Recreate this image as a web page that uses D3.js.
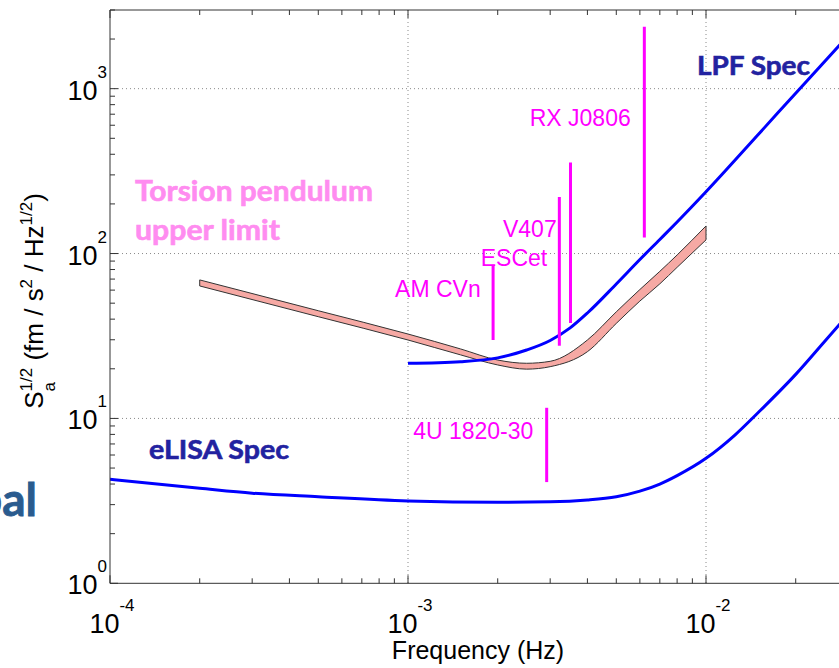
<!DOCTYPE html>
<html>
<head>
<meta charset="utf-8">
<script src="https://cdn.jsdelivr.net/npm/d3@7"></script>
<style>
	body { margin: 0; background: #fff; }
	svg { display: block; font-family: "Liberation Sans", Arial, sans-serif; }
</style>
</head>
<body>
<svg id="chart"></svg>
<script>
// LPF requirement curve
const lpfFreq = [1e-3, 1.5e-3, 2e-3, 2.5e-3, 3e-3, 3.5e-3, 4e-3, 5e-3, 6e-3, 7e-3, 8e-3, 1e-2, 1.5e-2, 2e-2, 3e-2];
const lpfSpec = [21.6, 22.1, 23.3, 26.0, 29.7, 35.4, 43.6, 65.4, 92.0, 121.7, 155.4, 237, 529, 939, 2099];

// eLISA requirement curve
const elisaFreq = [1e-4, 2e-4, 3e-4, 5e-4, 1e-3, 2e-3, 3e-3, 4e-3, 5e-3, 6e-3, 7e-3, 8e-3, 1e-2, 1.25e-2, 1.5e-2, 2e-2, 2.5e-2, 3e-2];
const elisaSpec = [4.27, 3.77, 3.52, 3.35, 3.16, 3.1, 3.12, 3.2, 3.35, 3.62, 4.0, 4.5, 5.73, 7.93, 10.9, 18.5, 29.3, 42.7];

// torsion pendulum upper limit band
const torsionFreq = [2e-4, 5e-4, 1e-3, 1.5e-3, 2e-3, 2.5e-3, 3e-3, 4e-3, 5e-3, 6e-3, 7e-3, 8e-3, 1e-2];
const torsionUpper = [69.2, 45.0, 32.5, 26.4, 22.6, 21.6, 22.2, 29.9, 44.3, 60.5, 78.0, 98, 147];
const torsionLower = [63.6, 41.4, 29.9, 24.3, 21.1, 19.9, 20.6, 25.4, 37.7, 51.5, 65.5, 82.5, 121];

// binary sources (vertical bars) and where their names sit
const sourceNames = ["AM CVn", "V407", "ESCet", "RX J0806", "4U 1820-30"];
const sourceFreq = [1.93e-3, 3.22e-3, 3.51e-3, 6.21e-3, 2.92e-3];
const sourceHigh = [85.5, 220, 356, 2377, 11.6];
const sourceLow = [29.9, 27.6, 37.9, 125, 4.11];
const labelFreq = [1.754e-3, 3.155e-3, 2.933e-3, 5.59e-3, 2.634e-3];
const labelValue = [54.5, 125.5, 84.4, 594, 7.47];

// axis ticks (10^-1 sits beyond the visible area)
const xMajor = [1e-4, 1e-3, 1e-2];
const xExp = ["-4", "-3", "-2"];
const yMajor = [1, 10, 100, 1000];
const yExp = ["0", "1", "2", "3"];

const width = 839, height = 668;
const margin = { top: 10, left: 110 };

const svg = d3.select("#chart").attr("width", width).attr("height", height);

const xScale = d3.scaleLog().domain([1e-4, 1e-1]).range([110, 1004]);
const yScale = d3.scaleLog().domain([1, 3000]).range([583.3, 10]);

const plotRight = 1004, plotBottom = 583.3;

svg.append("clipPath").attr("id", "clip")
	.append("rect")
	.attr("x", margin.left).attr("y", margin.top)
	.attr("width", plotRight - margin.left).attr("height", plotBottom - margin.top);

// minor tick positions
let minor = [];
[1e-4, 1e-3, 1e-2].forEach(d => { for (let m = 2; m <= 9; m++) minor.push(d * m); });
let yMinor = [];
[1, 10, 100, 1000].forEach(d => { for (let m = 2; m <= 9; m++) if (d * m <= 3000) yMinor.push(d * m); });

// grid (dotted, decades only)
const grid = svg.append("g").attr("class", "grid");
grid.selectAll(".vgrid")
	.data(xMajor.slice(1))
	.join("line")
	.attr("x1", d => xScale(d)).attr("x2", d => xScale(d))
	.attr("y1", margin.top).attr("y2", plotBottom)
	.attr("stroke", "#8a8a8a").attr("stroke-width", 1).attr("stroke-dasharray", "1,3");
grid.selectAll(".hgrid")
	.data(yMajor.slice(1))
	.join("line")
	.attr("x1", margin.left).attr("x2", plotRight)
	.attr("y1", d => yScale(d)).attr("y2", d => yScale(d))
	.attr("stroke", "#8a8a8a").attr("stroke-width", 1).attr("stroke-dasharray", "1,3");

const chart = svg.append("g").attr("clip-path", "url(#clip)");

// torsion pendulum band
const band = torsionFreq.map((f, i) => ({ f: f, hi: torsionUpper[i], lo: torsionLower[i] }));
chart.append("path")
	.datum(band)
	.attr("fill", "#f6a9a4")
	.attr("stroke", "#333")
	.attr("stroke-width", 1)
	.attr("d", d3.area()
		.x(d => xScale(d.f))
		.y0(d => yScale(d.lo))
		.y1(d => yScale(d.hi))
		.curve(d3.curveMonotoneX));

const line = d3.line()
	.x(d => xScale(d[0]))
	.y(d => yScale(d[1]))
	.curve(d3.curveMonotoneX);

chart.append("path")
	.datum(lpfFreq.map((f, i) => [f, lpfSpec[i]]))
	.attr("fill", "none").attr("stroke", "#0000ff").attr("stroke-width", 3)
	.attr("d", line);

chart.append("path")
	.datum(elisaFreq.map((f, i) => [f, elisaSpec[i]]))
	.attr("fill", "none").attr("stroke", "#0000ff").attr("stroke-width", 3)
	.attr("d", line);

// sources
const sources = sourceNames.map((n, i) => ({
	name: n, f: sourceFreq[i], hi: sourceHigh[i], lo: sourceLow[i], lf: labelFreq[i], lv: labelValue[i]
}));

chart.selectAll(".source")
	.data(sources)
	.join("line")
	.attr("class", "source")
	.attr("x1", d => xScale(d.f)).attr("x2", d => xScale(d.f))
	.attr("y1", d => yScale(d.hi)).attr("y2", d => yScale(d.lo))
	.attr("stroke", "#ff00ff").attr("stroke-width", 3);

svg.selectAll(".source-label")
	.data(sources)
	.join("text")
	.attr("class", "source-label")
	.attr("x", d => xScale(d.lf))
	.attr("y", d => yScale(d.lv))
	.attr("text-anchor", "end")
	.style("font-size", "23px")
	.attr("fill", "#ff00ff")
	.text(d => d.name);

// axes: frame lines and inward ticks
const axisColor = "#333";
const frame = svg.append("g").attr("class", "frame");
frame.append("line").attr("x1", margin.left).attr("x2", margin.left).attr("y1", margin.top).attr("y2", plotBottom)
	.attr("stroke", axisColor).attr("stroke-width", 1);
frame.append("line").attr("x1", margin.left).attr("x2", plotRight).attr("y1", plotBottom).attr("y2", plotBottom)
	.attr("stroke", axisColor).attr("stroke-width", 1);
frame.append("line").attr("x1", margin.left).attr("x2", plotRight).attr("y1", margin.top).attr("y2", margin.top)
	.attr("stroke", axisColor).attr("stroke-width", 1);

const xTicks = xMajor.map(d => ({ v: d, len: 8 })).concat(minor.map(d => ({ v: d, len: 5 })));
frame.selectAll(".xtick-b")
	.data(xTicks)
	.join("line")
	.attr("x1", d => xScale(d.v)).attr("x2", d => xScale(d.v))
	.attr("y1", plotBottom).attr("y2", d => plotBottom - d.len)
	.attr("stroke", axisColor);
frame.selectAll(".xtick-t")
	.data(xTicks)
	.join("line")
	.attr("x1", d => xScale(d.v)).attr("x2", d => xScale(d.v))
	.attr("y1", margin.top).attr("y2", d => margin.top + d.len)
	.attr("stroke", axisColor);

const yTicks = yMajor.map(d => ({ v: d, len: 8 })).concat(yMinor.map(d => ({ v: d, len: 5 })));
frame.selectAll(".ytick")
	.data(yTicks)
	.join("line")
	.attr("x1", margin.left).attr("x2", d => margin.left + d.len)
	.attr("y1", d => yScale(d.v)).attr("y2", d => yScale(d.v))
	.attr("stroke", axisColor);

// tick labels as 10^n
function powLabel(sel, exp) {
	sel.append("tspan").text("10");
	sel.append("tspan").attr("dy", -22).style("font-size", "17px").text(exp);
}

xMajor.forEach((d, i) => {
	const t = svg.append("text")
		.attr("x", xScale(d) + 2).attr("y", 633)
		.attr("text-anchor", "middle")
		.style("font-size", "27px").attr("fill", "#000");
	powLabel(t, xExp[i]);
});

yMajor.forEach((d, i) => {
	const t = svg.append("text")
		.attr("x", 107).attr("y", yScale(d) + 11)
		.attr("text-anchor", "end")
		.style("font-size", "27px").attr("fill", "#000");
	powLabel(t, yExp[i]);
});

// axis titles
svg.append("text")
	.attr("x", 478).attr("y", 659)
	.attr("text-anchor", "middle")
	.style("font-size", "25px")
	.text("Frequency (Hz)");

const yTitle = svg.append("text")
	.attr("transform", "translate(43,301) rotate(-90)")
	.attr("text-anchor", "middle")
	.style("font-size", "26px");
yTitle.append("tspan").text("S");
yTitle.append("tspan").attr("dy", -11).style("font-size", "17px").text("1/2");
yTitle.append("tspan").attr("dx", -23.6).attr("dy", 23).style("font-size", "17px").text("a");
yTitle.append("tspan").attr("dx", 14.2).attr("dy", -12).text(" (fm / s");
yTitle.append("tspan").attr("dy", -11).style("font-size", "17px").text("2");
yTitle.append("tspan").attr("dy", 11).text(" / Hz");
yTitle.append("tspan").attr("dy", -11).style("font-size", "17px").text("1/2");
yTitle.append("tspan").attr("dy", 11).text(")");

// annotation labels (slightly stroked to get the heavier slide weight)
const boldFont = "Lato, 'Open Sans', sans-serif";
function boldLabel(x, y, len, size, color, txt) {
	return svg.append("text")
		.attr("x", x).attr("y", y)
		.attr("textLength", len).attr("lengthAdjust", "spacingAndGlyphs")
		.style("font-family", boldFont).style("font-weight", "bold").style("font-size", size + "px")
		.attr("fill", color).attr("stroke", color).attr("stroke-width", 0.6)
		.text(txt);
}
boldLabel(697, 75, 113, 27, "#2222a0", "LPF Spec");
boldLabel(149, 459, 140, 27, "#2222a0", "eLISA Spec");
boldLabel(135, 201, 238, 28, "#ff8cf0", "Torsion pendulum");
boldLabel(135, 240, 145, 28, "#ff8cf0", "upper limit");

// word cut by the slide's left edge, as in the source picture
svg.append("text")
	.attr("x", 37).attr("y", 516)
	.attr("text-anchor", "end")
	.style("font-family", boldFont).style("font-weight", "bold").style("font-size", "46px")
	.attr("fill", "#2a5b8e").attr("stroke", "#2a5b8e").attr("stroke-width", 0.8)
	.text("Global");
</script>
</body>
</html>
